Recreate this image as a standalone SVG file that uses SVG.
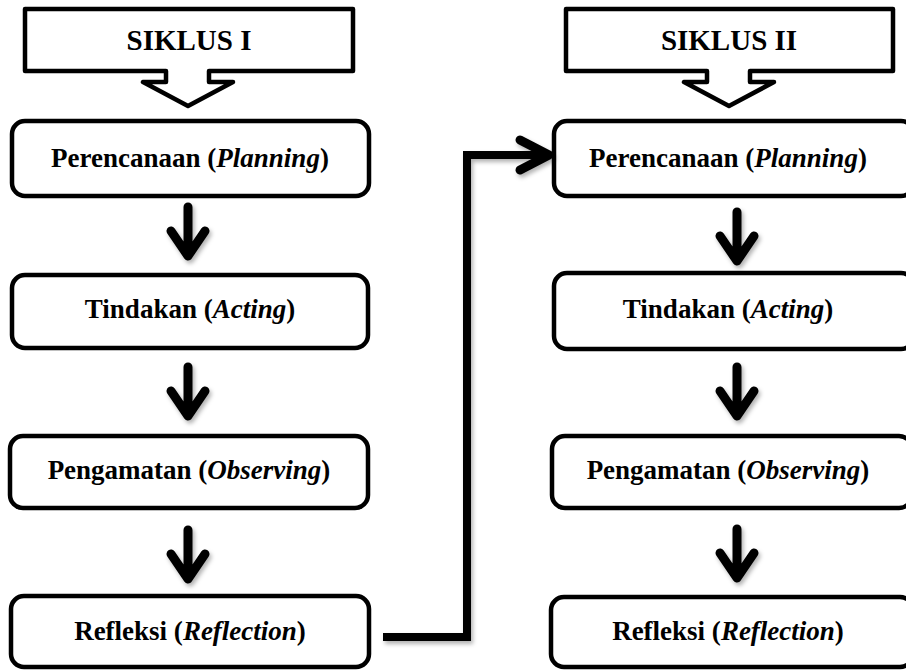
<svg xmlns="http://www.w3.org/2000/svg" width="906" height="670" viewBox="0 0 906 670">
<defs>
<style>
.box{fill:#fff;stroke:#000;stroke-width:4.5}
.callout{fill:#fff;stroke:#000;stroke-width:4.5;stroke-linejoin:round}
.lbl{font-family:"Liberation Serif","Times New Roman",serif;font-weight:bold;font-size:27px;text-anchor:middle;fill:#000}
.ttl{font-family:"Liberation Serif","Times New Roman",serif;font-weight:bold;font-size:29px;text-anchor:middle;fill:#000}
.arr{fill:none;stroke:#000;stroke-width:9;stroke-linecap:round;stroke-linejoin:round}
.con{fill:none;stroke:#000;stroke-width:8;stroke-linejoin:miter}
</style>
<filter id="sh" x="-30%" y="-30%" width="160%" height="160%">
<feDropShadow dx="2" dy="3" stdDeviation="2" flood-color="#000" flood-opacity="0.3"/>
</filter>
</defs>

<g id="siklus1">
<path class="callout" d="M25,9 H353 V71 H209 V82 H233 L188,106 L143,82 H166 V71 H25 Z"/>
<text class="ttl" x="189" y="50">SIKLUS I</text>
</g>
<g id="siklus2">
<path class="callout" d="M566,9 H893 V71 H750 V82 H774 L729,106 L684,82 H707 V71 H566 Z"/>
<text class="ttl" x="729" y="50">SIKLUS II</text>
</g>

<g id="plan1">
<rect class="box" x="12" y="121" width="357" height="75" rx="13"/>
<text class="lbl" x="190" y="167">Perencanaan (<tspan font-style="italic">Planning</tspan>)</text>
</g>
<g id="act1">
<rect class="box" x="12" y="275" width="356" height="73" rx="13"/>
<text class="lbl" x="190" y="318">Tindakan (<tspan font-style="italic">Acting</tspan>)</text>
</g>
<g id="obs1">
<rect class="box" x="10" y="436" width="358" height="72" rx="13"/>
<text class="lbl" x="189" y="479">Pengamatan (<tspan font-style="italic">Observing</tspan>)</text>
</g>
<g id="ref1">
<rect class="box" x="11" y="596" width="358" height="71" rx="13"/>
<text class="lbl" x="190" y="640">Refleksi (<tspan font-style="italic">Reflection</tspan>)</text>
</g>

<g id="plan2">
<rect class="box" x="554" y="121" width="360" height="75" rx="13"/>
<text class="lbl" x="728" y="167">Perencanaan (<tspan font-style="italic">Planning</tspan>)</text>
</g>
<g id="act2">
<rect class="box" x="554" y="273" width="360" height="76" rx="13"/>
<text class="lbl" x="728" y="318">Tindakan (<tspan font-style="italic">Acting</tspan>)</text>
</g>
<g id="obs2">
<rect class="box" x="552" y="436" width="360" height="72" rx="13"/>
<text class="lbl" x="728" y="479">Pengamatan (<tspan font-style="italic">Observing</tspan>)</text>
</g>
<g id="ref2">
<rect class="box" x="551" y="597" width="362" height="70" rx="13"/>
<text class="lbl" x="728" y="640">Refleksi (<tspan font-style="italic">Reflection</tspan>)</text>
</g>

<g id="connectors" filter="url(#sh)">
<path class="arr" d="M188,207 V254 M171,231 L188,256 L205,231"/>
<path class="arr" d="M188,367 V414 M171,391 L188,416 L205,391"/>
<path class="arr" d="M188,530 V577 M171,554 L188,579 L205,554"/>
<path class="arr" d="M737,212 V259 M720,236 L737,261 L754,236"/>
<path class="arr" d="M737,367 V414 M720,391 L737,416 L754,391"/>
<path class="arr" d="M737,529 V576 M720,553 L737,578 L754,553"/>
<path class="con" d="M383,637 H467 V155 H545"/>
<path class="arr" d="M520,140 L549,155 L520,170"/>
</g>
</svg>
